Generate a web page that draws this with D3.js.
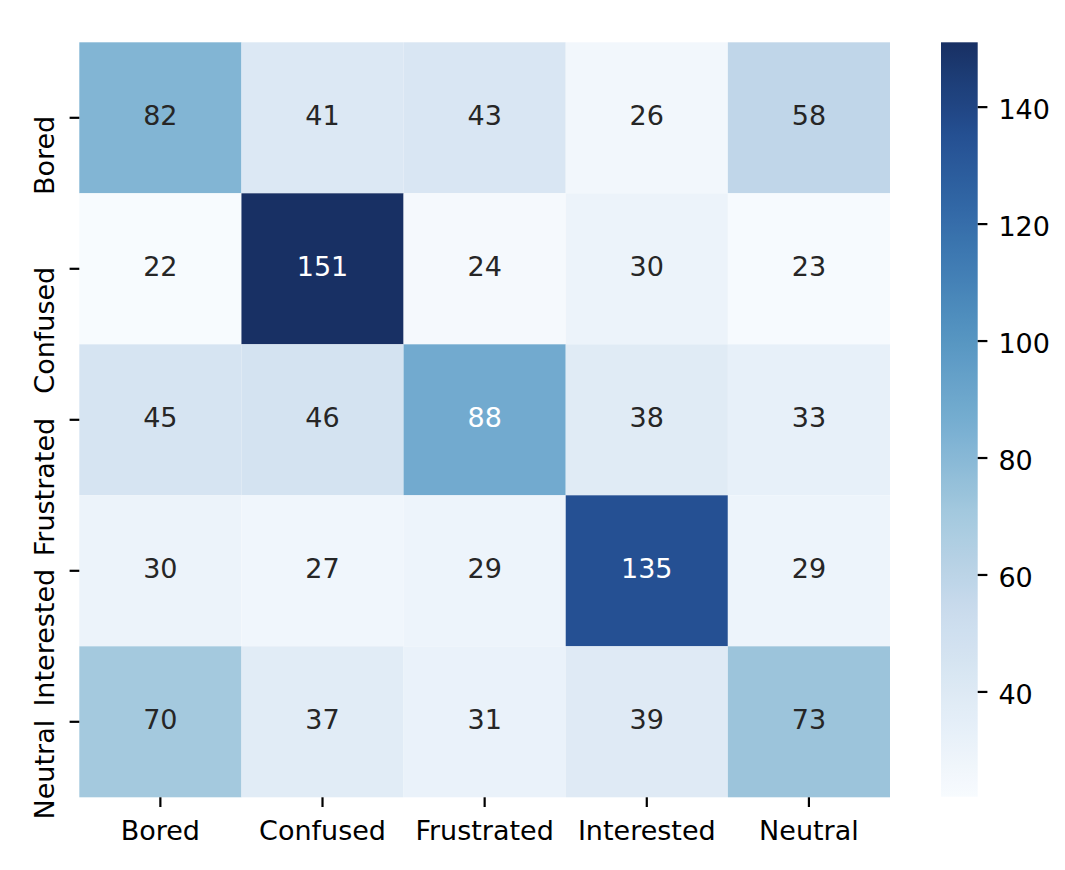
<!DOCTYPE html>
<html>
<head>
<meta charset="utf-8">
<script src="https://cdn.jsdelivr.net/npm/d3@7"></script>
<style>
  html, body { margin: 0; padding: 0; background: #fff; }
  svg { display: block; font-family: "DejaVu Sans", sans-serif; }
</style>
</head>
<body>
<svg id="chart" width="1065" height="870"></svg>
<script>
// ---- data ----
const rowLabels = ["Bored", "Confused", "Frustrated", "Interested", "Neutral"];
const colLabels = ["Bored", "Confused", "Frustrated", "Interested", "Neutral"];
const rowBored      = [82, 41, 43, 26, 58];
const rowConfused   = [22, 151, 24, 30, 23];
const rowFrustrated = [45, 46, 88, 38, 33];
const rowInterested = [30, 27, 29, 135, 29];
const rowNeutral    = [70, 37, 31, 39, 73];
const colorbarTicks = [40, 60, 80, 100, 120, 140];

const matrix = [rowBored, rowConfused, rowFrustrated, rowInterested, rowNeutral];
const cells = [];
matrix.forEach((row, i) => row.forEach((v, j) => cells.push({ r: rowLabels[i], c: colLabels[j], v })));

// ---- layout ----
const plotLeft = 79.3, plotRight = 890, plotTop = 42.3, plotBottom = 797.3;
const cbLeft = 941, cbRight = 977.7;
const fontSize = 27;

const svg = d3.select("#chart");

const x = d3.scaleBand().domain(colLabels).range([plotLeft, plotRight]).padding(0);
const y = d3.scaleBand().domain(rowLabels).range([plotTop, plotBottom]).padding(0);

const vmin = d3.min(cells, d => d.v), vmax = d3.max(cells, d => d.v);
const bluesStops = ["#f7fbff", "#deebf7", "#c6dbef", "#9ecae1", "#6baed6", "#4292c6", "#2171b5", "#08519c", "#08306b"];
const bluesRaw = d3.scaleLinear()
  .domain(bluesStops.map((_, i) => i / (bluesStops.length - 1)))
  .range(bluesStops)
  .interpolate(d3.interpolateRgb);
// rendered tone of the reference is slightly muted
function muted(c) {
  const h = d3.hcl(c);
  h.c *= 0.88;
  h.h += 1;
  return h.formatHex();
}
const blues = t => muted(bluesRaw(t));
const norm = d3.scaleLinear().domain([vmin, vmax]).range([0, 1]).clamp(true);
const color = v => blues(norm(v));

function luminance(c) {
  const rgb = d3.rgb(c);
  const lin = u => { u /= 255; return u <= 0.03928 ? u / 12.92 : Math.pow((u + 0.055) / 1.055, 2.4); };
  return 0.2126 * lin(rgb.r) + 0.7152 * lin(rgb.g) + 0.0722 * lin(rgb.b);
}

// cells
svg.append("g").selectAll("rect").data(cells).join("rect")
  .attr("x", d => x(d.c))
  .attr("y", d => y(d.r))
  .attr("width", x.bandwidth())
  .attr("height", y.bandwidth())
  .attr("fill", d => color(d.v));

// annotations
svg.append("g").selectAll("text").data(cells).join("text")
  .attr("x", d => x(d.c) + x.bandwidth() / 2)
  .attr("y", d => y(d.r) + y.bandwidth() / 2 + 7.5)
  .attr("text-anchor", "middle")
  .attr("font-size", fontSize)
  .attr("fill", d => luminance(bluesRaw(norm(d.v))) > 0.408 ? "#262626" : "#ffffff")
  .text(d => d.v);

// x axis ticks & labels
const tickLen = 9.7, tickW = 2.2;
const gx = svg.append("g");
gx.selectAll("line").data(colLabels).join("line")
  .attr("x1", d => x(d) + x.bandwidth() / 2).attr("x2", d => x(d) + x.bandwidth() / 2)
  .attr("y1", plotBottom).attr("y2", plotBottom + tickLen)
  .attr("stroke", "#000").attr("stroke-width", tickW);
gx.selectAll("text").data(colLabels).join("text")
  .attr("x", d => x(d) + x.bandwidth() / 2)
  .attr("y", plotBottom + 43)
  .attr("text-anchor", "middle")
  .attr("font-size", fontSize)
  .attr("fill", "#000")
  .text(d => d);

// y axis ticks & labels
const gy = svg.append("g");
gy.selectAll("line").data(rowLabels).join("line")
  .attr("x1", plotLeft - tickLen).attr("x2", plotLeft)
  .attr("y1", d => y(d) + y.bandwidth() / 2).attr("y2", d => y(d) + y.bandwidth() / 2)
  .attr("stroke", "#000").attr("stroke-width", tickW);
gy.selectAll("text").data(rowLabels).join("text")
  .attr("transform", d => `translate(53.5,${y(d) + y.bandwidth() / 2 - 2}) rotate(-90)`)
  .attr("text-anchor", "end")
  .attr("font-size", fontSize)
  .attr("fill", "#000")
  .text(d => d);

// colorbar
const cbScale = d3.scaleLinear().domain([vmin, vmax]).range([plotBottom - 0.6, plotTop]);
const defs = svg.append("defs");
const grad = defs.append("linearGradient").attr("id", "cbgrad")
  .attr("x1", "0").attr("y1", "1").attr("x2", "0").attr("y2", "0");
d3.range(0, 1.0001, 0.02).forEach(t => {
  grad.append("stop").attr("offset", t).attr("stop-color", blues(t));
});
svg.append("rect")
  .attr("x", cbLeft).attr("y", cbScale(vmax))
  .attr("width", cbRight - cbLeft).attr("height", cbScale(vmin) - cbScale(vmax))
  .attr("fill", "url(#cbgrad)");

const cbAxis = d3.axisRight(cbScale).tickValues(colorbarTicks).tickSize(tickLen).tickPadding(11);
const gcb = svg.append("g").attr("transform", `translate(${cbRight},0)`).call(cbAxis);
gcb.select(".domain").remove();
gcb.selectAll(".tick line").attr("stroke", "#000").attr("stroke-width", tickW);
gcb.selectAll(".tick text")
  .attr("font-size", fontSize)
  .attr("font-family", "DejaVu Sans, sans-serif")
  .attr("dy", "0.43em")
  .attr("fill", "#000");
</script>
</body>
</html>
